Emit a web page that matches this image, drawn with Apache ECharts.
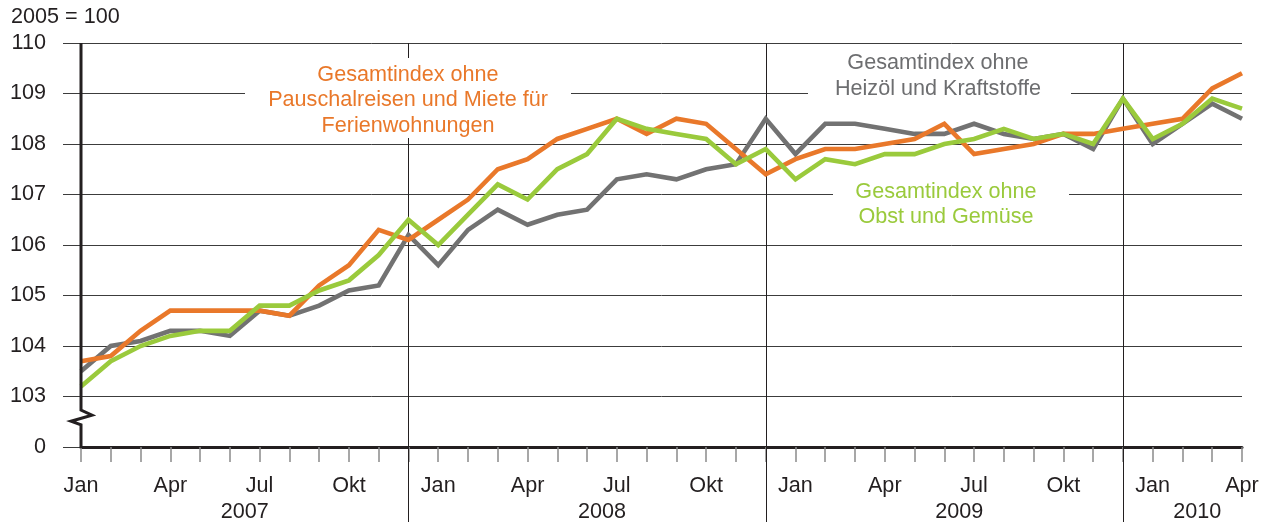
<!DOCTYPE html>
<html>
<head>
<meta charset="utf-8">
<script src="https://cdn.jsdelivr.net/npm/echarts@6/dist/echarts.min.js"></script>
<style>
html,body{margin:0;padding:0;background:#fff;}
#c{width:1267px;height:524px;}
</style>
</head>
<body>
<div id="c"></div>
<script>
// ---- data ----
const monthNames = ['Jan','Feb','Mär','Apr','Mai','Jun','Jul','Aug','Sep','Okt','Nov','Dez'];
const years = [2007, 2008, 2009, 2010];
const monthsInYear = [12, 12, 12, 4];
const yTickLabels = ['0','103','104','105','106','107','108','109','110'];

// Gesamtindex ohne Heizöl und Kraftstoffe (grau)
const ohneHeizoel = [
  103.5,104.0,104.1,104.3,104.3,104.2,104.7,104.6,104.8,105.1,105.2,106.2,
  105.6,106.3,106.7,106.4,106.6,106.7,107.3,107.4,107.3,107.5,107.6,108.5,
  107.8,108.4,108.4,108.3,108.2,108.2,108.4,108.2,108.1,108.2,107.9,108.9,
  108.0,108.4,108.8,108.5
];
// Gesamtindex ohne Pauschalreisen und Miete für Ferienwohnungen (orange)
const ohnePauschalreisen = [
  103.7,103.8,104.3,104.7,104.7,104.7,104.7,104.6,105.2,105.6,106.3,106.1,
  106.5,106.9,107.5,107.7,108.1,108.3,108.5,108.2,108.5,108.4,107.9,107.4,
  107.7,107.9,107.9,108.0,108.1,108.4,107.8,107.9,108.0,108.2,108.2,108.3,
  108.4,108.5,109.1,109.4
];
// Gesamtindex ohne Obst und Gemüse (grün)
const ohneObstGemuese = [
  103.2,103.7,104.0,104.2,104.3,104.3,104.8,104.8,105.1,105.3,105.8,106.5,
  106.0,106.6,107.2,106.9,107.5,107.8,108.5,108.3,108.2,108.1,107.6,107.9,
  107.3,107.7,107.6,107.8,107.8,108.0,108.1,108.3,108.1,108.2,108.0,108.9,
  108.1,108.4,108.9,108.7
];

const labelOrange = 'Gesamtindex ohne\nPauschalreisen und Miete für\nFerienwohnungen';
const labelGray = 'Gesamtindex ohne\nHeizöl und Kraftstoffe';
const labelGreen = 'Gesamtindex ohne\nObst und Gemüse';

// categories built from the small arrays above
const categories = [];
years.forEach((y, yi) => {
  for (let m = 0; m < monthsInYear[yi]; m++) categories.push(monthNames[m] + ' ' + y);
});

// ---- styles ----
const FONT = '"Liberation Sans", Arial, Helvetica, sans-serif';
const FS = 21.6;
const C_ORANGE = '#E9782A';
const C_GRAY = '#727272';
const C_GREEN = '#9ACA3C';
const C_DARK = '#231F20';
const C_GRID = '#3c3c3c';

const chart = echarts.init(document.getElementById('c'), null, {renderer: 'canvas'});

chart.setOption({
  animation: false,
  backgroundColor: '#fff',
  grid: {left: 81, right: 25, top: 43, bottom: 77, containLabel: false},
  xAxis: {
    type: 'category',
    data: categories,
    boundaryGap: false,
    axisLine: {show: true, onZero: false, lineStyle: {color: C_DARK, width: 3}},
    axisTick: {show: true, interval: 0, length: 15, lineStyle: {color: '#8a8a8a', width: 1.5}},
    axisLabel: {
      interval: 0, margin: 28, fontSize: FS, fontFamily: FONT, color: C_DARK,
      formatter: (v, i) => (i % 3 === 0 ? v.split(' ')[0] : '')
    },
    splitLine: {show: false}
  },
  yAxis: {
    type: 'value', min: 102, max: 110, interval: 1,
    axisLine: {show: false},
    axisTick: {show: true, length: 18, lineStyle: {color: C_GRID, width: 1}},
    axisLabel: {
      margin: 35, fontSize: FS, fontFamily: FONT, color: C_DARK,
      formatter: (v) => yTickLabels[Math.round(v) - 102]
    },
    splitLine: {show: true, lineStyle: {color: C_GRID, width: 1}}
  },
  series: [
    {name: 'ohne Heizöl und Kraftstoffe', type: 'line', data: ohneHeizoel, showSymbol: false, z: 3,
     lineStyle: {color: C_GRAY, width: 4.6, join: 'miter'}, itemStyle: {color: C_GRAY}},
    {name: 'ohne Pauschalreisen', type: 'line', data: ohnePauschalreisen, showSymbol: false, z: 4,
     lineStyle: {color: C_ORANGE, width: 4.6, join: 'miter'}, itemStyle: {color: C_ORANGE}},
    {name: 'ohne Obst und Gemüse', type: 'line', data: ohneObstGemuese, showSymbol: false, z: 5,
     lineStyle: {color: C_GREEN, width: 4.6, join: 'miter'}, itemStyle: {color: C_GREEN}}
  ]
});

// ---- decorations positioned through the chart's own scales ----
const px = (i, v) => chart.convertToPixel({gridIndex: 0}, [i, v]);
const topY = px(0, 110)[1];
const botY = px(0, 102)[1];
const x0 = px(0, 110)[0];
const g = [];

let idx = 0;
const yearStart = [], yearEnd = [];
years.forEach((y, yi) => { yearStart.push(idx); idx += monthsInYear[yi]; yearEnd.push(idx - 1); });
yearEnd.slice(0, 3).forEach(i => {
  const x = Math.round(px(i, 110)[0]) + 0.5;
  g.push({type: 'line', z: 1, shape: {x1: x, y1: topY, x2: x, y2: 522}, style: {stroke: C_DARK, lineWidth: 1}});
});
years.forEach((y, yi) => {
  const xc = (px(yearStart[yi], 110)[0] + px(yearEnd[yi], 110)[0]) / 2;
  g.push({type: 'text', z: 10, style: {text: String(y), x: xc, y: 512, fill: C_DARK, font: FS + 'px ' + FONT, textAlign: 'center', textVerticalAlign: 'middle'}});
});

// y axis line with break
const pb = v => px(0, v)[1];
g.push({type: 'polyline', z: 12, shape: {points: [
  [x0, topY], [x0, pb(102.73)], [x0 + 11, pb(102.63)], [x0 - 10, pb(102.51)], [x0, pb(102.44)], [x0, botY + 1]
]}, style: {stroke: C_DARK, lineWidth: 3, fill: null, lineJoin: 'miter'}});

// white backgrounds behind the annotations
g.push({type: 'rect', z: 2, shape: {x: 245, y: 58, width: 326, height: 80}, style: {fill: '#fff'}});
g.push({type: 'rect', z: 2, shape: {x: 808, y: 50, width: 263, height: 50}, style: {fill: '#fff'}});
g.push({type: 'rect', z: 2, shape: {x: 833, y: 180, width: 236, height: 50}, style: {fill: '#fff'}});

// annotations
g.push({type: 'text', z: 20, style: {text: labelOrange, x: 408, y: 100.5, fill: C_ORANGE, font: FS + 'px ' + FONT, lineHeight: 25.5, textAlign: 'center', textVerticalAlign: 'middle'}});
g.push({type: 'text', z: 20, style: {text: labelGray, x: 938, y: 76, fill: '#6D6E70', font: FS + 'px ' + FONT, lineHeight: 25.5, textAlign: 'center', textVerticalAlign: 'middle'}});
g.push({type: 'text', z: 20, style: {text: labelGreen, x: 946, y: 204.5, fill: C_GREEN, font: FS + 'px ' + FONT, lineHeight: 25.5, textAlign: 'center', textVerticalAlign: 'middle'}});

g.push({type: 'text', z: 20, style: {text: '2005 = 100', x: 11, y: 17, fill: C_DARK, font: FS + 'px ' + FONT, textAlign: 'left', textVerticalAlign: 'middle'}});

chart.setOption({graphic: {elements: g}});
</script>
</body>
</html>
